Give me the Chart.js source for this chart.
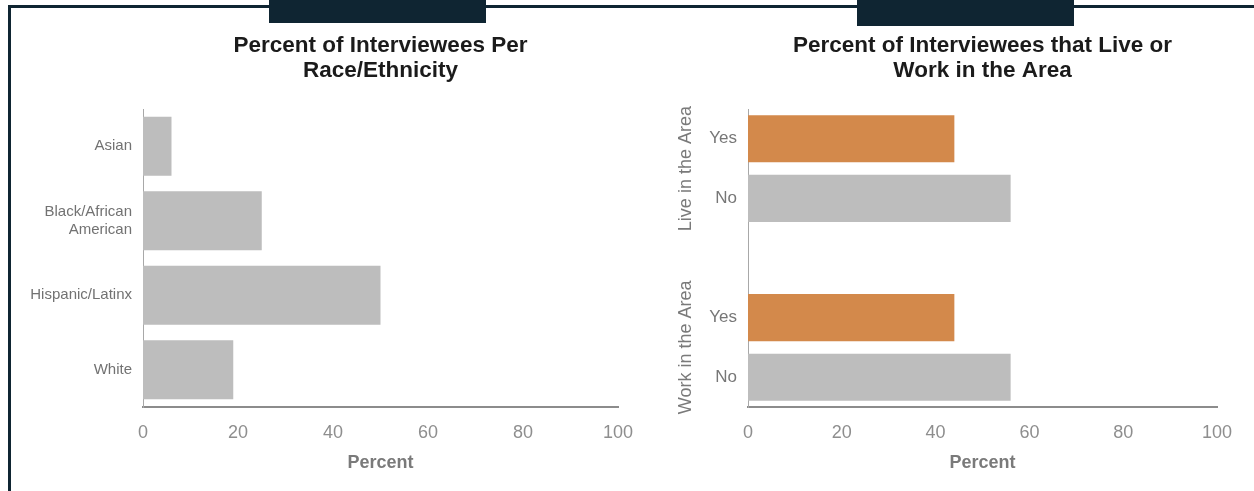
<!DOCTYPE html>
<html>
<head>
<meta charset="utf-8">
<script src="https://cdn.jsdelivr.net/npm/chart.js@4/dist/chart.umd.min.js"></script>
<style>
  html, body { margin: 0; padding: 0; background: #fff; }
  #page { position: relative; width: 1254px; height: 491px; overflow: hidden; background: #fff; }
  .frame { position: absolute; background: #0f2532; }
  canvas { position: absolute; }
</style>
</head>
<body>
<div id="page">
  <div class="frame" style="left:8px; top:5px; width:1246px; height:3px;"></div>
  <div class="frame" style="left:8px; top:5px; width:3px; height:486px;"></div>
  <div class="frame" style="left:269px; top:0; width:217px; height:23px;"></div>
  <div class="frame" style="left:857px; top:0; width:217px; height:26px;"></div>
  <canvas id="raceChart" width="626" height="479" style="left:14px; top:12px;"></canvas>
  <canvas id="areaChart" width="602" height="479" style="left:640px; top:12px;"></canvas>
</div>
<script>
"use strict";

// данные: доля опрошенных по расе/этничности
const raceLabels = ["Asian", ["Black/African", "American"], "Hispanic/Latinx", "White"];
const racePercent = [6, 25, 50, 19];

// данные: живут / работают в районе (пустая строка — промежуток между группами)
const areaLabels = ["Yes", "No", "", "Yes", "No"];
const areaPercent = [44, 56, null, 44, 56];
const areaGroups = ["Live in the Area", "Work in the Area"];

// подписи оси X
const percentTicks = [0, 20, 40, 60, 80, 100];

const FONT = "'Liberation Sans', Arial, Helvetica, sans-serif";
const GRAY_BAR = "#bdbdbd";
const ORANGE_BAR = "#d3894b";

Chart.defaults.font.family = FONT;
Chart.defaults.animation = false;

// заголовок по центру области графика
const plotTitle = {
  id: "plotTitle",
  afterDraw(chart, args, opts) {
    const { ctx, chartArea } = chart;
    const cx = (chartArea.left + chartArea.right) / 2;
    ctx.save();
    ctx.font = "bold 22.5px " + FONT;
    ctx.fillStyle = "#1b1b1b";
    ctx.textAlign = "center";
    ctx.textBaseline = "middle";
    opts.lines.forEach((line, i) => {
      ctx.fillText(line, cx, opts.y + i * 25);
    });
    ctx.restore();
  },
};

// вертикальные подписи групп слева от оси Y
const groupLabels = {
  id: "groupLabels",
  afterDraw(chart, args, opts) {
    if (!opts.groups) return;
    const { ctx, chartArea } = chart;
    const yScale = chart.scales.y;
    ctx.save();
    ctx.font = "18px " + FONT;
    ctx.fillStyle = "#7a7a7a";
    ctx.textAlign = "center";
    ctx.textBaseline = "middle";
    opts.groups.forEach((name, i) => {
      const a = yScale.getPixelForValue(i * 3);
      const b = yScale.getPixelForValue(i * 3 + 1);
      ctx.save();
      ctx.translate(chartArea.left - 62, (a + b) / 2);
      ctx.rotate(-Math.PI / 2);
      ctx.fillText(name, 0, 0);
      ctx.restore();
    });
    ctx.restore();
  },
};

function percentAxis() {
  return {
    type: "linear",
    min: percentTicks[0],
    max: percentTicks[percentTicks.length - 1],
    grid: { display: false, drawTicks: false },
    border: { display: true, color: "#8c8c8c", width: 2 },
    ticks: {
      stepSize: percentTicks[1] - percentTicks[0],
      padding: 15,
      color: "#8e8e8e",
      font: { size: 18 },
    },
    title: {
      display: true,
      text: "Percent",
      color: "#7a7a7a",
      font: { size: 18, weight: "bold" },
      padding: { top: 0, bottom: 17 },
    },
    afterFit(scale) {
      scale.height = 84;
      // крайние подписи не сдвигают область графика — отступы задаёт layout
      scale.paddingLeft = 0;
      scale.paddingRight = 0;
    },
  };
}

function categoryAxis(width, fontSize, color) {
  return {
    type: "category",
    grid: { display: false, drawTicks: false },
    border: { display: true, color: "#a8a8a8", width: 1 },
    ticks: {
      padding: 11,
      color: color,
      font: { size: fontSize, lineHeight: 1.2 },
    },
    afterFit(scale) {
      scale.width = width;
    },
  };
}

// график по расе/этничности
new Chart(document.getElementById("raceChart"), {
  type: "bar",
  data: {
    labels: raceLabels,
    datasets: [
      {
        data: racePercent,
        backgroundColor: GRAY_BAR,
        barPercentage: 0.79,
        categoryPercentage: 1,
      },
    ],
  },
  options: {
    indexAxis: "y",
    responsive: false,
    layout: { padding: { top: 97, right: 22, bottom: 0, left: 0 } },
    scales: {
      x: percentAxis(),
      y: categoryAxis(129, 15, "#727272"),
    },
    plugins: {
      legend: { display: false },
      tooltip: { enabled: false },
      plotTitle: { lines: ["Percent of Interviewees Per", "Race/Ethnicity"], y: 34 },
    },
  },
  plugins: [plotTitle],
});

// график: живут или работают в районе
new Chart(document.getElementById("areaChart"), {
  type: "bar",
  data: {
    labels: areaLabels,
    datasets: [
      {
        data: areaPercent,
        backgroundColor: areaLabels.map((l) => (l === "Yes" ? ORANGE_BAR : GRAY_BAR)),
        barPercentage: 0.79,
        categoryPercentage: 1,
      },
    ],
  },
  options: {
    indexAxis: "y",
    responsive: false,
    layout: { padding: { top: 97, right: 25, bottom: 0, left: 0 } },
    scales: {
      x: percentAxis(),
      y: categoryAxis(108, 17, "#777777"),
    },
    plugins: {
      legend: { display: false },
      tooltip: { enabled: false },
      plotTitle: {
        lines: ["Percent of Interviewees that Live or", "Work in the Area"],
        y: 34,
      },
      groupLabels: { groups: areaGroups },
    },
  },
  plugins: [plotTitle, groupLabels],
});
</script>
</body>
</html>
